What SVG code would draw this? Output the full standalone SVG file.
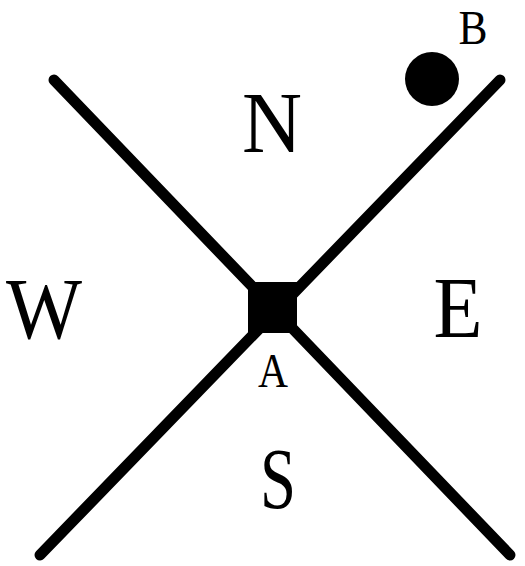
<svg xmlns="http://www.w3.org/2000/svg" width="525" height="566" viewBox="0 0 525 566">
<style>
.ln{stroke:#000;stroke-width:11;stroke-linecap:round;fill:none}
.big{font-family:"Liberation Serif",serif;font-size:87px;fill:#000;text-anchor:middle}
.sm{font-family:"Liberation Serif",serif;font-size:48px;fill:#000;text-anchor:middle}
</style>
<rect width="525" height="566" fill="#fff"/>
<g id="connectors">
<line class="ln" x1="54" y1="80" x2="510" y2="555"/>
<line class="ln" x1="500" y1="80" x2="40" y2="555"/>
</g>
<g id="A">
<rect x="248" y="282" width="49" height="51" fill="#000"/>
<text class="sm" x="273" y="387" textLength="30" lengthAdjust="spacingAndGlyphs">A</text>
</g>
<g id="B">
<circle cx="432" cy="79" r="27" fill="#000"/>
<text class="sm" x="473" y="44" font-size="46" textLength="29" lengthAdjust="spacingAndGlyphs">B</text>
</g>
<g id="N"><text class="big" x="272" y="152" textLength="60" lengthAdjust="spacingAndGlyphs">N</text></g>
<g id="W"><text class="big" x="44" y="338" textLength="76" lengthAdjust="spacingAndGlyphs">W</text></g>
<g id="E"><text class="big" x="458" y="337" textLength="49" lengthAdjust="spacingAndGlyphs">E</text></g>
<g id="S"><text class="big" x="278" y="508" textLength="36" lengthAdjust="spacingAndGlyphs">S</text></g>
</svg>
